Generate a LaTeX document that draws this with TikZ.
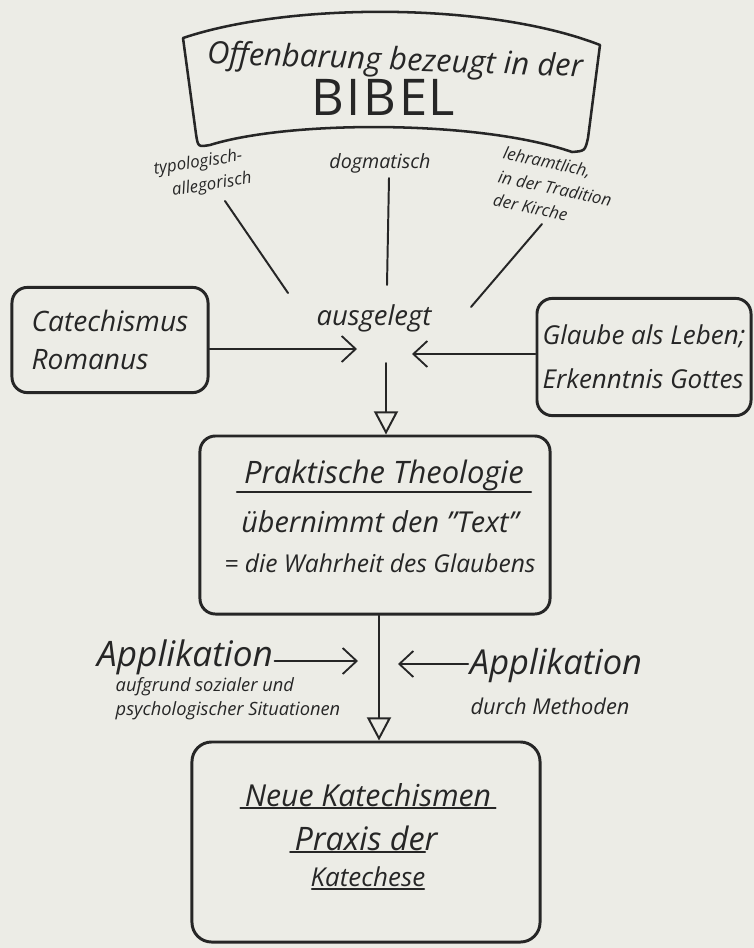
\documentclass[tikz,border=0pt]{standalone}
\usepackage{fontspec}
\setmainfont{Open Sans}
\usepackage{tikz}
\usetikzlibrary{arrows.meta,positioning,calc}

\definecolor{paper}{RGB}{236,236,230}
\definecolor{inkgray}{RGB}{38,38,38}
\newcommand{\penfont}[2]{\fontsize{#1}{#2}\selectfont}

\tikzset{
  ink/.style={draw=inkgray, line width=1.4pt, line cap=round},
  box/.style={draw=inkgray, line width=2.1pt, rounded corners=11pt, inner sep=0pt},
  hand/.style={text=inkgray, inner sep=1pt},
  feed/.style={ink, line width=1.3pt, -{Straight Barb[length=3.5mm, width=6.5mm, line width=1.3pt]}},
  flow/.style={ink, -{Triangle[open, length=5.8mm, width=6mm, line width=1.4pt]}},
}

\begin{document}
\begin{tikzpicture}[x=0.025cm, y=-0.025cm]
  % paper
  \useasboundingbox (0,0) rectangle (754,948);
  \fill[paper] (0,0) rectangle (754,948);

  % banner with the Bible
  \draw[ink, line width=1.8pt, line join=round]
    (183,38) .. controls (290,2) and (490,2) .. (600,45)
    -- (588,138) .. controls (585,151) .. (572,152)
    .. controls (480,120) and (290,120) .. (210,145)
    .. controls (198,147) .. (196,134) -- cycle;
  \node[hand, rotate=-2, font=\itshape\penfont{22}{26}] (offb) at (395,62) {Offenbarung bezeugt in der};
  \node[hand, font=\penfont{36}{40}] (bibel) at (383,97) {B\kern2pt I\kern2pt B\kern2pt E\kern1pt L};

  % ways of reading
  \node[hand, rotate=9, align=center, font=\itshape\penfont{12}{17}] (typo) at (200,175) {typologisch-\\\hspace{1.2em}allegorisch};
  \node[hand, font=\itshape\penfont{14}{16}] (dogma) at (380,163) {dogmatisch};
  \node[hand, rotate=-12, align=left, font=\itshape\penfont{12}{17}] (lehr) at (555,188) {lehramtlich,\\in der Tradition\\der Kirche};

  \coordinate (typoA) at (225,201);  \coordinate (typoB) at (288,293);
  \coordinate (dogmaA) at (389,178); \coordinate (dogmaB) at (387,285);
  \coordinate (lehrA) at (542,224);  \coordinate (lehrB) at (471,307);
  \draw[ink] (typoA) -- (typoB);
  \draw[ink] (dogmaA) -- (dogmaB);
  \draw[ink] (lehrA) -- (lehrB);

  \node[hand, font=\itshape\penfont{19.5}{22}] (ausl) at (374,318) {ausgelegt};

  % side sources
  \node[box, hand, align=left, minimum width=4.9cm, minimum height=2.63cm, font=\itshape\penfont{20}{27.6}] (cat) at (110,340)
    {Catechismus\\Romanus};
  \node[box, hand, align=left, minimum width=5.35cm, minimum height=2.93cm, font=\itshape\penfont{18.5}{31}] (glaube) at (644,357)
    {Glaube als Leben;\\Erkenntnis Gottes};

  \coordinate (catIn) at (357,349);
  \coordinate (glIn) at (412,354);
  \draw[feed] (catIn -| cat.east) -- (catIn);
  \draw[feed] (glIn -| glaube.west) -- (glIn);

  % practical theology
  \node[box, minimum width=8.75cm, minimum height=4.45cm] (prak) at (375,525) {};
  \node[hand, font=\itshape\penfont{22}{26}] (praktitle) at (384,475) {Praktische Theologie};
  \draw[ink] ([xshift=-4pt]praktitle.south west) -- ([xshift=4pt]praktitle.south east);
  \node[hand, font=\itshape\penfont{20.5}{24}] (praktext) at (380,522) {übernimmt den "Text"};
  \node[hand, font=\itshape\penfont{17.5}{20}] (praktruth) at (380,563) {= die Wahrheit des Glaubens};

  \coordinate (auslOut) at (386,363);
  \draw[flow] (auslOut) -- (auslOut |- prak.north);

  % application
  \node[hand, font=\itshape\penfont{25}{28}] (appL) at (185,657) {Applikation};
  \node[hand, align=left, font=\itshape\penfont{13}{17}] (appLsub) at (228,699) {aufgrund sozialer und\\psychologischer Situationen};
  \node[hand, font=\itshape\penfont{24.5}{28}] (appR) at (556,666) {Applikation};
  \node[hand, font=\itshape\penfont{15.5}{18}] (appRsub) at (550,706) {durch Methoden};

  \coordinate (appLin) at (358,661);
  \coordinate (appRin) at (398,664);
  \draw[feed] (appL.east |- appLin) -- (appLin);
  \draw[feed] (appR.west |- appRin) -- (appRin);

  % new catechisms
  \node[box, rounded corners=14pt, minimum width=8.7cm, minimum height=5cm] (neue) at (366,842) {};
  \draw[flow] (prak.south -| 379,0) -- (neue.north -| 379,0);
  \node[hand, font=\itshape\penfont{21.5}{24}] (neuetitle) at (368,795) {Neue Katechismen};
  \node[hand, font=\itshape\penfont{23}{26}] (neuepraxis) at (366,838) {Praxis der};
  \node[hand, font=\itshape\penfont{18.5}{22}] (neuekat) at (368,877) {Katechese};
  \draw[ink] ([xshift=-2pt]neuetitle.south west) -- ([xshift=2pt]neuetitle.south east);
  \draw[ink] ([xshift=-2pt]neuepraxis.south west) -- ([xshift=-10pt]neuepraxis.south east);
  \draw[ink] ([xshift=2pt]neuekat.south west) -- ([xshift=-2pt]neuekat.south east);
\end{tikzpicture}
\end{document}
